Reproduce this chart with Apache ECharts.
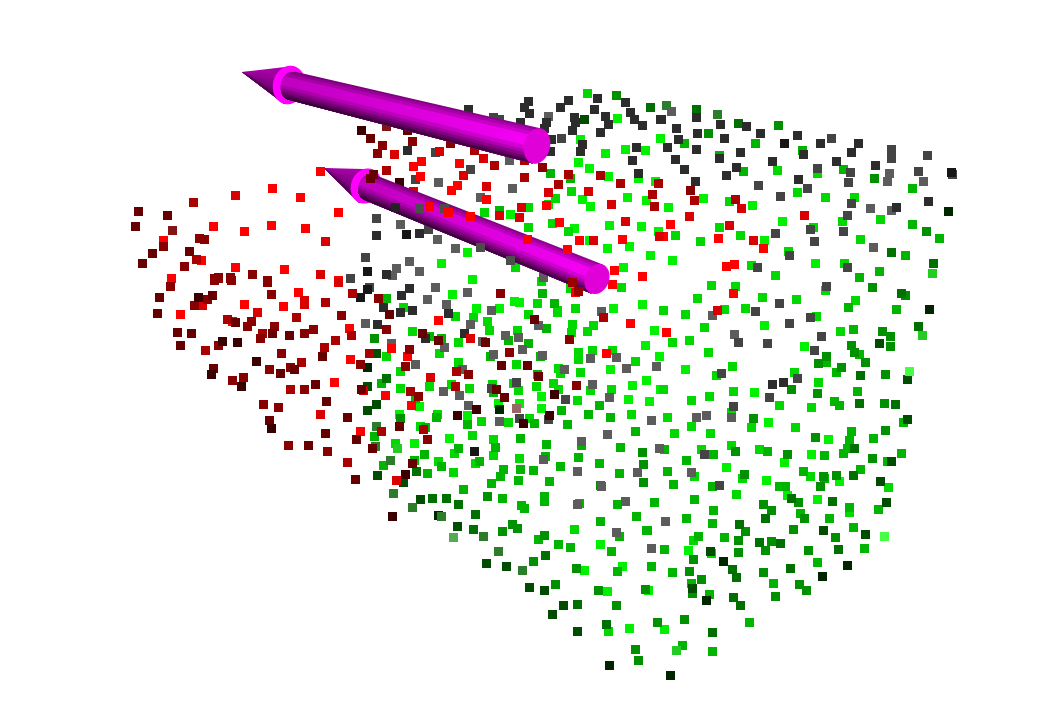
<!DOCTYPE html>
<html>
<head>
<meta charset="utf-8">
<title>Point cloud with two arrows</title>
<style>
  html, body { margin: 0; padding: 0; background: #fff; }
  #chart { width: 1041px; height: 725px; }
</style>
<script src="https://cdn.jsdelivr.net/npm/echarts@6/dist/echarts.min.js"></script>
</head>
<body>
<div id="chart"></div>
<script>
// points, one list per colour level
const greenA = [[605,153],[625,149],[645,150],[580,139],[660,138],[578,162],[589,168],[608,176],[638,178],[655,181],[582,199],[590,206],[627,197],[646,200],[574,228],[609,225],[641,226],[658,231],[589,240],[607,248],[629,246],[650,255],[623,267],[617,118],[472,279],[452,294],[514,301],[519,302],[476,308],[499,308],[613,308],[642,304],[467,252],[441,263],[510,214],[703,198],[752,205],[668,207],[782,221],[764,240],[672,260],[815,263],[399,414],[654,330],[659,356],[645,345],[610,369],[646,380],[632,385],[628,399],[649,401],[660,389],[541,396],[419,406],[414,443],[467,415],[498,403],[519,403],[541,408],[449,438],[764,325],[685,369],[804,346],[754,392],[768,422],[828,439],[811,454],[784,462],[726,467],[766,480],[839,481],[600,544],[584,570],[622,566],[607,591],[648,590],[629,628],[787,495],[817,499],[688,550],[664,629]]
const greenB = [[386,356],[400,371],[400,388],[395,443],[587,93],[515,267],[541,281],[484,212],[548,204],[528,207],[552,223],[568,231],[528,227],[571,191],[555,198],[570,288],[621,287],[537,303],[403,307],[575,308],[557,310],[797,192],[825,197],[854,197],[729,201],[719,227],[813,227],[842,221],[880,219],[675,235],[740,235],[700,241],[860,239],[788,251],[844,263],[751,265],[775,275],[711,285],[735,286],[825,290],[762,297],[697,298],[796,299],[855,300],[724,309],[745,308],[663,310],[817,173],[777,170],[455,316],[473,317],[487,321],[557,312],[528,314],[572,324],[593,325],[571,332],[587,331],[489,330],[517,330],[412,331],[458,342],[439,353],[578,352],[578,359],[592,350],[612,350],[635,361],[580,372],[458,362],[516,364],[558,368],[560,373],[429,386],[451,384],[469,388],[492,384],[513,383],[518,390],[536,386],[553,383],[558,389],[590,390],[611,389],[577,400],[437,414],[481,421],[508,422],[529,418],[631,414],[420,426],[472,435],[493,439],[454,453],[493,455],[438,461],[475,463],[519,458],[453,472],[685,314],[816,316],[840,331],[704,327],[689,340],[672,342],[708,352],[732,366],[716,375],[794,372],[818,382],[663,389],[733,391],[709,396],[691,400],[779,405],[811,407],[731,412],[667,417],[751,427],[795,427],[691,426],[674,433],[710,433],[731,445],[701,449],[759,449],[810,476],[742,478],[694,476],[574,529],[711,553],[693,540],[888,487],[736,494],[849,512],[608,631]]
const greenC = [[381,383],[386,298],[374,436],[383,465],[550,173],[570,178],[499,210],[542,293],[554,303],[684,143],[755,143],[802,150],[719,155],[743,171],[843,169],[912,188],[912,224],[848,307],[896,309],[905,255],[939,238],[859,277],[879,271],[429,336],[441,338],[546,328],[508,340],[528,343],[490,356],[540,356],[537,374],[493,392],[415,398],[436,417],[599,405],[561,410],[467,424],[534,423],[567,424],[588,414],[610,417],[635,431],[425,427],[520,438],[458,448],[495,447],[546,444],[581,445],[620,447],[424,454],[414,460],[441,466],[479,461],[545,456],[578,457],[599,463],[427,473],[503,469],[520,469],[533,470],[560,466],[619,473],[500,476],[491,483],[518,480],[549,481],[463,489],[853,329],[859,354],[826,362],[836,372],[857,391],[834,401],[839,405],[903,422],[851,431],[849,440],[873,438],[664,449],[713,454],[767,451],[824,455],[843,453],[847,448],[901,453],[686,460],[887,461],[667,471],[803,471],[824,478],[860,469],[673,484],[712,486],[779,486],[785,486],[749,622],[544,496],[502,498],[544,501],[521,505],[524,508],[617,504],[579,503],[600,521],[636,516],[619,536],[646,530],[538,539],[558,544],[570,547],[611,551],[617,571],[651,566],[654,502],[694,499],[849,507],[878,509],[713,510],[800,513],[829,518],[686,518],[712,523],[853,527],[647,530],[698,536],[724,537],[664,549],[864,548],[817,562],[672,572],[691,583],[773,583],[709,594],[682,645],[712,651]]
const greenD = [[374,338],[616,95],[708,133],[778,125],[874,178],[926,231],[872,287],[905,295],[400,418],[882,331],[890,336],[851,345],[890,346],[854,352],[826,356],[818,363],[865,362],[841,367],[885,374],[791,389],[817,393],[884,403],[753,418],[885,430],[815,437],[735,451],[787,454],[872,458],[744,474],[823,476],[836,475],[820,486],[642,452],[643,464],[600,485],[643,482],[487,496],[512,524],[517,528],[502,531],[544,535],[533,561],[576,568],[555,584],[598,590],[645,589],[616,605],[635,649],[763,504],[771,510],[798,502],[804,518],[745,531],[793,529],[835,537],[738,540],[771,541],[738,552],[765,550],[808,550],[693,559],[689,571],[763,572],[701,579],[799,584],[806,590],[692,593],[775,596],[657,622],[684,619],[638,660]]
const greenE = [[386,378],[416,471],[650,107],[696,109],[738,123],[891,252],[933,263],[901,293],[918,326],[860,375],[859,403],[895,404],[854,448],[853,475],[458,504],[446,498],[432,498],[475,514],[473,529],[545,555],[577,604],[606,624],[832,501],[765,518],[739,524],[791,498],[759,542],[780,543],[838,549],[732,569],[790,568],[736,577],[733,597],[740,605],[712,632]]
const greenF = [[376,353],[367,386],[376,404],[367,410],[377,475],[403,482],[584,119],[879,343],[907,379],[907,419],[891,461],[880,481],[420,499],[457,526],[486,563],[506,566],[529,587],[544,590],[563,605],[552,614],[577,631],[886,502],[823,530],[865,534],[710,551],[692,588]]
const greenG = [[948,211],[929,309],[499,409],[438,515],[367,367],[609,665],[723,561],[847,565],[822,576],[706,600],[670,675]]

const paleDim = [[412,507],[441,516],[498,551],[666,105],[717,114],[376,426],[375,446],[390,460],[483,536],[522,570],[393,493]]
const paleSoft = [[453,537]]
const paleBright = [[397,448],[676,650],[922,335],[932,273]]
const paleLime = [[884,536],[909,371]]
const tan = [[516,408]]
const rust = [[172,230],[386,126]]

const grayA = [[671,111],[548,116],[509,160],[438,182],[512,188],[480,197],[437,239],[455,248],[409,261],[543,277],[396,268],[392,275],[419,271],[435,287],[467,292],[427,299],[446,304],[491,310],[601,311],[365,323],[391,343],[538,325],[470,324],[505,335],[518,337],[482,341],[444,347],[522,349],[493,354],[542,355],[616,357],[590,358],[415,364],[462,369],[564,369],[626,368],[656,366],[592,384],[609,397],[651,420],[607,434],[659,448],[581,441],[577,471],[637,472],[601,486],[712,315],[734,334],[706,415],[696,417],[731,417],[691,472],[577,504],[625,501],[616,532],[651,548],[665,521],[870,208],[891,210],[889,173],[887,181],[923,181],[873,247],[543,459],[499,421],[443,391],[459,395],[468,405],[400,224]]
const grayB = [[376,218],[365,257],[350,278],[369,287],[493,117],[499,119],[561,138],[435,152],[470,169],[415,179],[428,229],[817,168],[850,172],[918,171],[848,182],[758,185],[807,188],[780,196],[851,203],[847,215],[810,229],[843,231],[775,233],[814,241],[789,255],[757,267],[847,267],[826,286],[779,303],[755,311],[831,138],[891,149],[891,158],[927,155],[810,317],[789,323],[738,342],[767,343],[821,336],[814,350],[721,373],[797,378],[769,397],[733,406],[704,454],[719,485],[491,388],[516,382],[519,418],[548,419],[565,399],[952,174]]
const grayC = [[376,235],[386,274],[377,324],[383,307],[528,101],[524,107],[529,113],[568,100],[560,107],[546,122],[520,122],[544,128],[468,109],[597,98],[625,102],[594,109],[574,117],[575,122],[605,116],[608,124],[630,112],[634,119],[642,125],[572,130],[600,132],[660,119],[551,139],[550,151],[582,144],[580,151],[636,147],[632,160],[638,173],[407,150],[419,233],[409,288],[401,295],[696,117],[661,119],[720,124],[746,126],[676,128],[697,133],[760,133],[797,135],[678,139],[724,138],[820,143],[858,143],[667,147],[696,149],[740,152],[803,154],[851,152],[719,158],[675,159],[772,161],[836,161],[875,165],[736,167],[684,169],[726,175],[695,181],[798,179],[928,201],[896,207],[412,310],[400,312],[448,313],[464,333],[425,338],[783,382],[772,384]]
const grayD = [[367,271],[406,234],[360,297],[784,143],[951,172],[474,451],[367,289]]

const redA = [[272,188],[300,197],[338,212],[213,226],[244,231],[271,225],[305,228],[163,240],[201,260],[235,267],[284,269],[338,280],[171,278],[232,321],[180,314],[298,292],[244,304],[283,306],[349,328],[391,348],[350,359],[334,382],[385,395],[360,431],[413,166],[421,161],[420,176],[459,163],[457,185],[451,190],[486,199],[546,205],[559,222],[579,240],[622,239],[614,270],[642,276],[612,284],[575,292],[670,224],[663,236],[718,238],[763,248],[734,264],[726,266],[733,293],[438,320],[630,323],[606,353],[407,356],[411,405],[666,332]]
const redB = [[235,195],[325,241],[320,274],[257,312],[304,300],[304,304],[338,282],[202,305],[363,390],[320,414],[394,154],[439,151],[483,158],[463,175],[486,186],[413,191],[548,192],[588,191],[611,204],[521,207],[519,217],[499,215],[625,221],[593,240],[659,236],[804,215],[689,216],[729,225],[741,208],[753,240],[717,310],[470,338],[430,377],[396,480]]
const redC = [[193,202],[196,259],[325,302],[352,293],[296,317],[227,319],[262,333],[351,335],[205,350],[335,340],[324,347],[301,362],[369,353],[290,389],[381,431],[347,462],[386,170],[474,150],[494,165],[524,160],[524,177],[558,184],[568,174],[600,175],[620,183],[658,183],[652,194],[654,206],[694,200],[735,199],[603,317],[456,371],[455,386],[423,429],[410,391]]
const redD = [[204,239],[199,238],[163,246],[184,266],[252,274],[230,277],[218,277],[214,278],[267,280],[170,286],[207,299],[194,305],[214,280],[218,278],[231,280],[230,278],[267,282],[271,294],[378,298],[341,315],[251,321],[247,326],[274,326],[260,338],[304,333],[313,329],[386,329],[218,345],[281,353],[290,367],[269,369],[232,380],[243,377],[304,389],[263,404],[278,407],[360,364],[288,445],[327,451],[382,145],[377,153],[542,167],[500,293],[690,190],[569,339],[409,349],[509,352],[405,366],[468,374],[418,396],[427,439],[576,385],[412,141],[450,143]]
const redE = [[138,211],[167,215],[135,226],[152,253],[189,251],[142,263],[159,297],[157,313],[212,295],[235,322],[272,333],[289,335],[177,332],[191,333],[180,345],[322,356],[294,369],[280,373],[213,368],[315,384],[361,389],[326,401],[347,417],[269,420],[325,433],[356,439],[308,445],[355,479],[370,138],[389,314],[407,130],[534,319],[422,333],[438,340],[485,342],[501,365],[527,365],[538,376],[496,389],[504,397],[372,448],[412,463],[399,426]]
const redF = [[361,130],[399,182],[198,297],[222,341],[237,342],[256,361],[211,374],[241,386],[271,428],[476,409],[457,415],[523,423],[554,394],[549,415],[405,474],[392,516]]

// these few sit in front of the lower arrow
const frontRed = [[320,171],[429,206],[448,212],[470,216],[527,239],[567,249]]
const frontCrimson = [[572,282],[578,291]]
const frontMaroon = [[373,174],[370,178]]
const frontGray = [[419,208],[444,208],[480,247],[510,260]]
const frontBlack = [[395,207]]

// arrows: cone tip, ring centre, far end of the shaft
const arrowTips = [[242,72],[324,168]]
const arrowRings = [[289,85],[366,186]]
const arrowEnds = [[537,146],[597,279]]

// half widths at ring side / far side, ring size, tail cap depth, far cap depth
const arrowLook = [
  { tailHalf: 14.5, endHalf: 18, ringAcross: 19.5, ringAlong: 16, tailCap: 11, endCap: 13, tailShift: 3 },
  { tailHalf: 13.5, endHalf: 15.5, ringAcross: 18, ringAlong: 15, tailCap: 10, endCap: 12, tailShift: 3 }
]
// [share of the shaft width, brightness], top edge to bottom edge
const shaftBands = [[0.06, 0.58], [0.08, 0.7], [0.1, 0.82], [0.32, 0.97], [0.11, 0.84], [0.09, 0.7], [0.08, 0.56], [0.08, 0.42], [0.08, 0.28]]
const coneShades = [0.66, 0.64, 0.62, 0.6, 0.58, 0.55, 0.52, 0.47, 0.4, 0.3]

function purple(v) {
  const c = Math.round(255 * v)
  return 'rgb(' + c + ',0,' + c + ')'
}

function at(c, dir, nor, along, across) {
  return [c[0] + dir[0] * along + nor[0] * across, c[1] + dir[1] * along + nor[1] * across]
}

function ellipse(c, dir, nor, along, across) {
  const pts = []
  for (let i = 0; i < 48; i++) {
    const a = i / 48 * Math.PI * 2
    pts.push(at(c, dir, nor, Math.cos(a) * along, Math.sin(a) * across))
  }
  return pts
}

function renderArrow(params, api) {
  const look = arrowLook[params.dataIndex]
  const tip = api.coord([api.value(0), api.value(1)])
  const ring = api.coord([api.value(2), api.value(3)])
  const end = api.coord([api.value(4), api.value(5)])
  const len = Math.hypot(end[0] - ring[0], end[1] - ring[1])
  const dir = [(end[0] - ring[0]) / len, (end[1] - ring[1]) / len]
  const nor = [-dir[1], dir[0]]
  const tail = at(ring, dir, nor, look.tailShift, 0)
  const children = []

  // cone, drawn as overlapping fans so no seams show
  coneShades.forEach(function(v, i) {
    const t0 = -1 + 2 * i / coneShades.length
    children.push({
      type: 'polygon',
      shape: { points: [tip, at(ring, dir, nor, 0, t0 * look.ringAcross), at(ring, dir, nor, 0, look.ringAcross)] },
      style: { fill: purple(v) }
    })
  })

  // ring
  children.push({
    type: 'polygon',
    shape: { points: ellipse(ring, dir, nor, look.ringAlong, look.ringAcross) },
    style: { fill: '#ff00ff' }
  })

  // shaft, one strip per band; each strip runs to the bottom so the next one paints over it
  let t0 = -1
  shaftBands.forEach(function(band) {
    const fill = new echarts.graphic.LinearGradient(tail[0], tail[1], end[0], end[1], [
      { offset: 0, color: purple(band[1] * 0.78) },
      { offset: 1, color: purple(band[1]) }
    ], true)
    const pts = []
    const steps = 12
    for (let s = 0; s <= steps; s++) {
      const t = t0 + (1 - t0) * s / steps
      pts.push(at(end, dir, nor, 0, t * look.endHalf))
    }
    for (let s = steps; s >= 0; s--) {
      const t = t0 + (1 - t0) * s / steps
      pts.push(at(tail, dir, nor, -look.tailCap * Math.sqrt(Math.max(0, 1 - t * t)), t * look.tailHalf))
    }
    children.push({ type: 'polygon', shape: { points: pts }, style: { fill: fill } })
    t0 += band[0] * 2
  })

  // far end cap
  children.push({
    type: 'polygon',
    shape: { points: ellipse(end, dir, nor, look.endCap, look.endHalf) },
    style: { fill: '#e000d8' }
  })

  return { type: 'group', children: children }
}

function dots(data, color, z) {
  return {
    type: 'scatter',
    data: data,
    symbol: 'rect',
    symbolSize: 9,
    symbolOffset: [0.5, 0.5],
    itemStyle: { color: color, opacity: 1 },
    silent: true,
    z: z
  }
}

const chart = echarts.init(document.getElementById('chart'))
chart.setOption({
  animation: false,
  backgroundColor: '#ffffff',
  grid: { left: 0, right: 0, top: 0, bottom: 0 },
  xAxis: { type: 'value', min: 0, max: 1041, show: false },
  yAxis: { type: 'value', min: 0, max: 725, inverse: true, show: false },
  series: [
    dots(greenA, '#00f000', 2),
    dots(greenB, '#00d800', 2),
    dots(greenC, '#00b400', 2),
    dots(greenD, '#009000', 2),
    dots(greenE, '#007000', 2),
    dots(greenF, '#004c00', 2),
    dots(greenG, '#002600', 2),
    dots(paleDim, '#2c7c2c', 2),
    dots(paleSoft, '#55aa55', 2),
    dots(paleBright, '#22cc22', 2),
    dots(paleLime, '#44ff44', 2),
    dots(grayA, '#5c5c5c', 3),
    dots(grayB, '#444444', 3),
    dots(grayC, '#2c2c2c', 3),
    dots(grayD, '#161616', 3),
    dots(tan, '#996666', 3),
    dots(rust, '#801515', 3),
    dots(redA, '#ff0000', 4),
    dots(redB, '#d80000', 4),
    dots(redC, '#aa0000', 4),
    dots(redD, '#880000', 4),
    dots(redE, '#660000', 4),
    dots(redF, '#3a0000', 4),
    {
      type: 'custom',
      silent: true,
      z: 5,
      clip: false,
      renderItem: renderArrow,
      data: arrowTips.map(function(t, i) {
        return [t[0], t[1], arrowRings[i][0], arrowRings[i][1], arrowEnds[i][0], arrowEnds[i][1]]
      })
    },
    dots(frontGray, '#4c4c4c', 6),
    dots(frontBlack, '#222222', 6),
    dots(frontRed, '#ff0000', 6),
    dots(frontCrimson, '#990000', 6),
    dots(frontMaroon, '#660000', 6)
  ]
})
</script>
</body>
</html>
